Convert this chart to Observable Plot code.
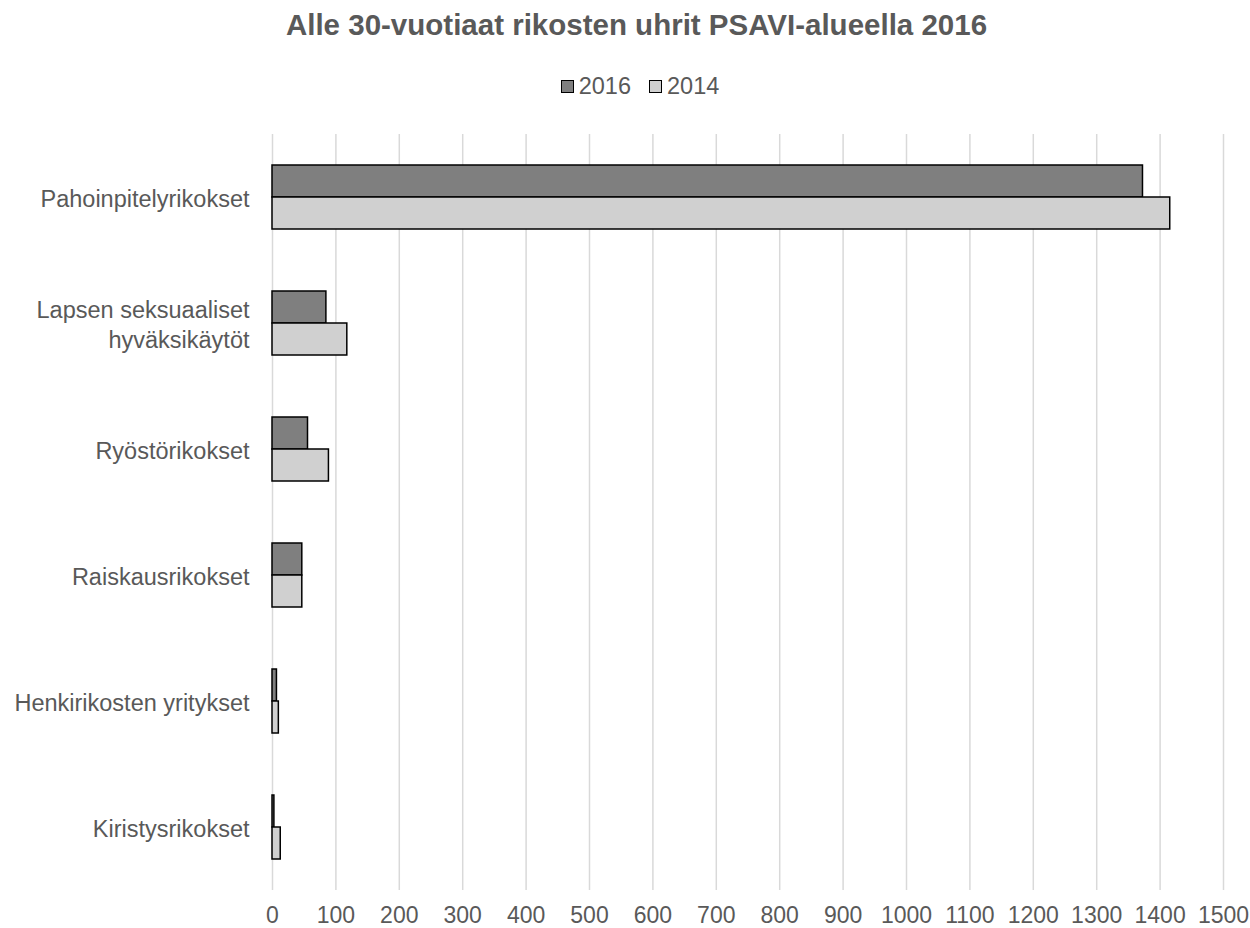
<!DOCTYPE html>
<html>
<head>
<meta charset="utf-8">
<script src="https://cdn.jsdelivr.net/npm/d3@7"></script>
<script src="https://cdn.jsdelivr.net/npm/@observablehq/plot@0.6"></script>
<style>
  html, body { margin: 0; padding: 0; background: #fff; }
  body { width: 1250px; height: 928px; overflow: hidden; font-family: "Liberation Sans", Arial, sans-serif; color: #595959; }
  #title { box-sizing: border-box; height: 60px; padding-top: 11px; padding-left: 23px; text-align: center; font-weight: bold; font-size: 29.5px; line-height: 28px; white-space: nowrap; }
  #legend { box-sizing: border-box; height: 40px; padding-top: 11.5px; padding-left: 30px; display: flex; justify-content: center; font-size: 23.5px; line-height: 24px; }
  .item { display: flex; align-items: center; margin: 0 9px; }
  .sw { box-sizing: border-box; width: 13px; height: 13px; border: 1.5px solid #000; margin-right: 5px; margin-top: 1px; }
</style>
</head>
<body>
<div id="title"></div>
<div id="legend"></div>
<div id="chart"></div>
<script>
const titleText = "Alle 30-vuotiaat rikosten uhrit PSAVI-alueella 2016";
const categories = ["Pahoinpitelyrikokset", "Lapsen seksuaaliset hyväksikäytöt", "Ryöstörikokset", "Raiskausrikokset", "Henkirikosten yritykset", "Kiristysrikokset"];
const categoryLabels = ["Pahoinpitelyrikokset", "Lapsen seksuaaliset\nhyväksikäytöt", "Ryöstörikokset", "Raiskausrikokset", "Henkirikosten yritykset", "Kiristysrikokset"];
const series = ["2016", "2014"];
const seriesColors = ["#7f7f7f", "#d0d0d0"];
const values2016 = [1373, 85, 56, 47, 7, 3];
const values2014 = [1416, 118, 89, 47, 10, 13];
const xTicks = [0, 100, 200, 300, 400, 500, 600, 700, 800, 900, 1000, 1100, 1200, 1300, 1400, 1500];

document.getElementById("title").textContent = titleText;
const legend = document.getElementById("legend");
series.forEach((s, i) => {
  const item = document.createElement("div");
  item.className = "item";
  const sw = document.createElement("div");
  sw.className = "sw";
  sw.style.background = seriesColors[i];
  const t = document.createElement("span");
  t.textContent = s;
  item.appendChild(sw);
  item.appendChild(t);
  legend.appendChild(item);
});

const data = [];
categories.forEach((c, i) => {
  data.push({category: c, series: "2016", value: values2016[i]});
  data.push({category: c, series: "2014", value: values2014[i]});
});
const labelMap = new Map(categories.map((c, i) => [c, categoryLabels[i]]));

const chart = Plot.plot({
  width: 1250,
  height: 828,
  marginLeft: 272,
  marginRight: 27,
  marginTop: 32,
  marginBottom: 36,
  style: {fontFamily: '"Liberation Sans", Arial, sans-serif', fontSize: "23.5px", color: "#595959", background: "#fff", overflow: "visible"},
  x: {domain: [0, 1500], label: null},
  fy: {domain: categories, padding: 0, label: null},
  y: {domain: series, paddingInner: 0, paddingOuter: 0.92, axis: null},
  color: {domain: series, range: seriesColors},
  marks: [
    Plot.gridX(xTicks, {stroke: "#d9d9d9", strokeOpacity: 1, strokeWidth: 1.5}),
    Plot.axisX(xTicks, {tickSize: 0, tickPadding: 16, fontSize: 23, fill: "#595959", tickFormat: d => String(d), label: null}),
    Plot.axisFy({anchor: "left", tickSize: 0, tickPadding: 23, tickFormat: d => labelMap.get(d), lineHeight: 1.25, fill: "#595959", fontSize: 23.5, label: null}),
    Plot.barX(data, {x: "value", y: "series", fy: "category", fill: "series", stroke: "#000", strokeWidth: 1.5})
  ]
});
document.getElementById("chart").appendChild(chart);
</script>
</body>
</html>
